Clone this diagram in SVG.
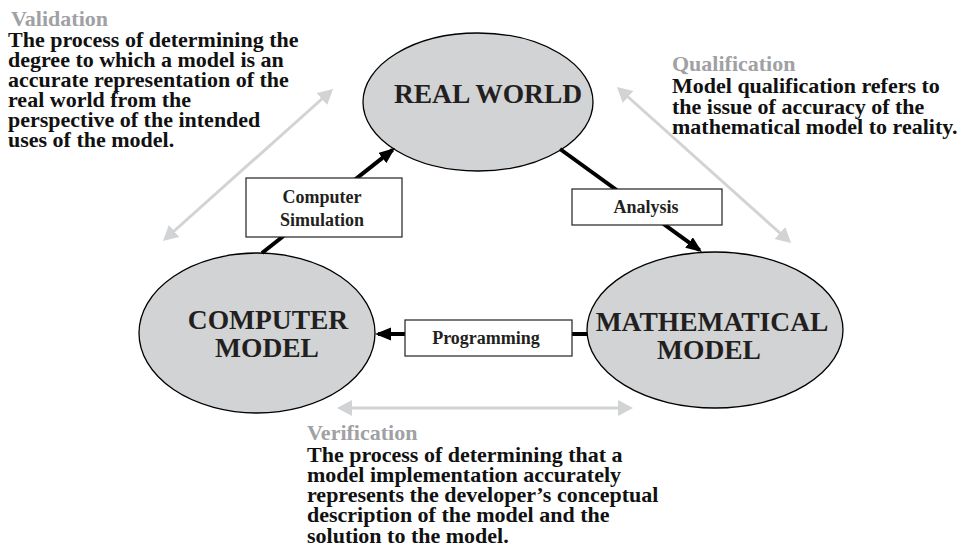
<svg xmlns="http://www.w3.org/2000/svg" width="970" height="552" viewBox="0 0 970 552">
<style>
.ell{fill:#d1d3d4;stroke:#000;stroke-width:1.3}
.big{font-family:"Liberation Serif","Times New Roman",serif;font-weight:bold;font-size:27.5px;fill:#231f20;text-anchor:middle}
.box{fill:#fff;stroke:#231f20;stroke-width:1.2}
.lbl{font-family:"Liberation Serif","Times New Roman",serif;font-weight:bold;font-size:18px;fill:#231f20;text-anchor:middle}
.blk{stroke:#000;stroke-width:4;fill:none}
.gry{stroke:#d1d3d4;stroke-width:3;fill:none}
.ttl{font-family:"Liberation Serif","Times New Roman",serif;font-weight:bold;font-size:22px;fill:#9fa1a4}
.txt{font-family:"Liberation Serif","Times New Roman",serif;font-weight:bold;font-size:22px;fill:#111}
</style>
<defs>
<marker id="ab" markerUnits="userSpaceOnUse" markerWidth="17" markerHeight="14" refX="13" refY="6.5" orient="auto" viewBox="0 0 17 14">
<path d="M0,0 L16,6.5 L0,13 z" fill="#000"/>
</marker>
<marker id="ag" markerUnits="userSpaceOnUse" markerWidth="17" markerHeight="17" refX="12" refY="8" orient="auto-start-reverse" viewBox="0 0 17 17">
<path d="M0,0 L15,8 L0,16 z" fill="#d1d3d4"/>
</marker>
</defs>
<rect width="970" height="552" fill="#fff"/>

<g id="real-world">
<ellipse class="ell" cx="478" cy="102" rx="115" ry="69"/>
<text class="big" x="488" y="103">REAL WORLD</text>
</g>
<g id="computer-model">
<ellipse class="ell" cx="257" cy="333" rx="118" ry="80"/>
<text class="big" x="268" y="329">COMPUTER</text>
<text class="big" x="267" y="357">MODEL</text>
</g>
<g id="mathematical-model">
<ellipse class="ell" cx="715" cy="330" rx="128" ry="78"/>
<text class="big" x="712" y="331">MATHEMATICAL</text>
<text class="big" x="709" y="359">MODEL</text>
</g>

<g id="connectors">
<line class="blk" x1="262" y1="253" x2="392.6" y2="149.9" marker-end="url(#ab)"/>
<line class="blk" x1="560" y1="149" x2="699.6" y2="250.2" marker-end="url(#ab)"/>
<line class="blk" x1="587" y1="334" x2="378" y2="334" marker-end="url(#ab)"/>
<line class="gry" x1="330.8" y1="91" x2="165.2" y2="239" marker-start="url(#ag)" marker-end="url(#ag)"/>
<line class="gry" x1="619.2" y1="89" x2="788.8" y2="241" marker-start="url(#ag)" marker-end="url(#ag)"/>
<line class="gry" x1="340" y1="408" x2="630" y2="408" marker-start="url(#ag)" marker-end="url(#ag)"/>
</g>

<g id="computer-simulation">
<rect class="box" x="246" y="178" width="156" height="59"/>
<text class="lbl" x="322" y="203">Computer</text>
<text class="lbl" x="322" y="226">Simulation</text>
</g>
<g id="analysis">
<rect class="box" x="572" y="189" width="150" height="36"/>
<text class="lbl" x="646" y="213">Analysis</text>
</g>
<g id="programming">
<rect class="box" x="405" y="320" width="167" height="36"/>
<text class="lbl" x="486" y="344">Programming</text>
</g>

<g id="validation">
<text class="ttl" x="11" y="26">Validation</text>
<text class="txt" x="8" y="46.5">The process of determining the</text>
<text class="txt" x="8" y="66.5">degree to which a model is an</text>
<text class="txt" x="8" y="86.5">accurate representation of the</text>
<text class="txt" x="8" y="106.5">real world from the</text>
<text class="txt" x="8" y="126.5">perspective of the intended</text>
<text class="txt" x="8" y="147">uses of the model.</text>
</g>
<g id="qualification">
<text class="ttl" x="672" y="71">Qualification</text>
<text class="txt" x="672" y="93">Model qualification refers to</text>
<text class="txt" x="672" y="113.5">the issue of accuracy of the</text>
<text class="txt" x="672" y="134">mathematical model to reality.</text>
</g>
<g id="verification">
<text class="ttl" x="307" y="440">Verification</text>
<text class="txt" x="307" y="461.5">The process of determining that a</text>
<text class="txt" x="307" y="482">model implementation accurately</text>
<text class="txt" x="307" y="502">represents the developer’s conceptual</text>
<text class="txt" x="307" y="522">description of the model and the</text>
<text class="txt" x="307" y="542.5">solution to the model.</text>
</g>
</svg>
